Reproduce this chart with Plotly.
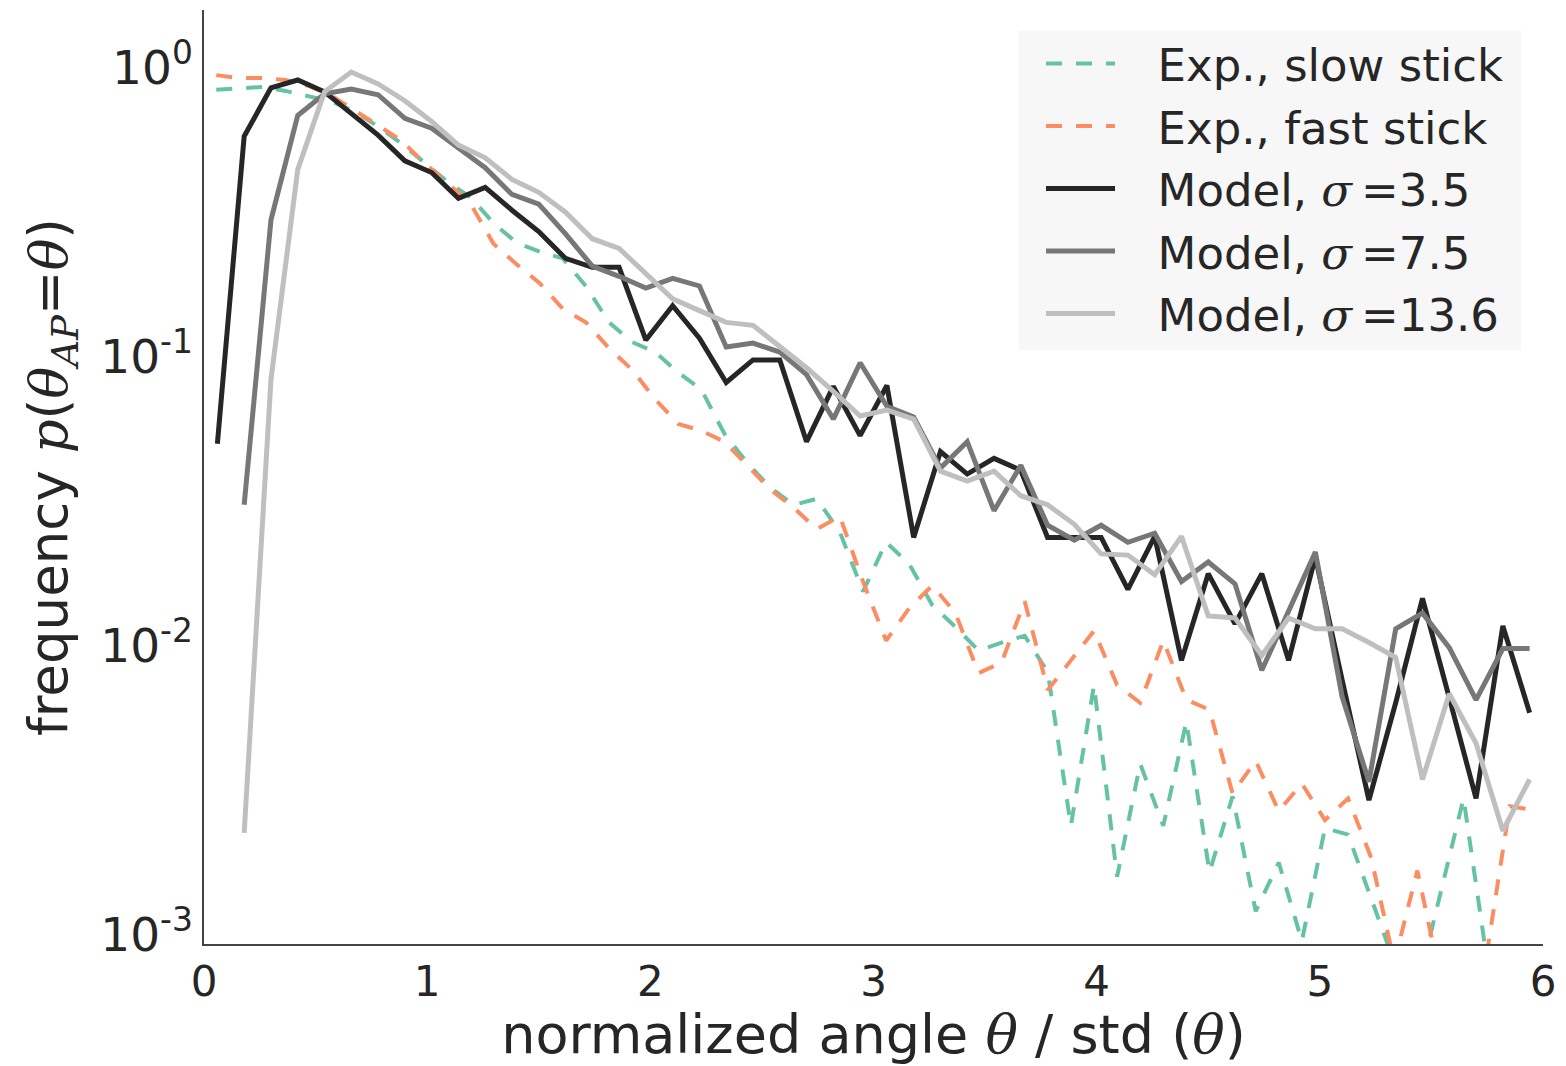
import numpy as np
import plotly.graph_objects as go

# ---------------- data ----------------
# model histograms: 50 bins on [0, 6]
model_x = np.round(0.06 + 0.12 * np.arange(50), 3)
# experimental histograms: 58 bins on [0, 6]
exp_x = np.round(0.055 + 0.1035 * np.arange(58), 4)

exp_slow = [0.835, 0.848, 0.855, 0.828, 0.796, 0.760, 0.702, 0.624, 0.546, 0.467,
            0.402, 0.355, 0.289, 0.247, 0.230, 0.218, 0.175, 0.131, 0.1119, 0.1034,
            0.0877, 0.0767, 0.0539, 0.0426, 0.0350, 0.0306, 0.0321, 0.0246, 0.01535, 0.0227,
            0.0191, 0.01375, 0.01157, 0.00958, 0.01021, 0.01078, 0.00806, 0.00237, 0.00728, 0.00158,
            0.00389, 0.00237, 0.00544, 0.00164, 0.00300, 0.00120, 0.00177, 0.000946, 0.00233, 0.00221,
            0.00132, 0.0008, 0.00065, 0.00140, 0.00295, 0.00083, 0.0003, 0.0003]

exp_fast = [0.939, 0.917, 0.917, 0.903, 0.861, 0.796, 0.708, 0.629, 0.559, 0.467,
            0.396, 0.338, 0.245, 0.208, 0.179, 0.146, 0.131, 0.1067, 0.0898, 0.0710,
            0.0583, 0.0552, 0.0506, 0.0419, 0.0345, 0.0299, 0.0252, 0.0279, 0.0166, 0.01037,
            0.01343, 0.01609, 0.01291, 0.00800, 0.00872, 0.01419, 0.00700, 0.00886, 0.01121, 0.00728,
            0.00632, 0.01037, 0.00647, 0.00598, 0.00307, 0.00398, 0.00267, 0.00332, 0.00248, 0.00295,
            0.00184, 0.0008, 0.00166, 0.0007, 0.0003, 0.00085, 0.00277, 0.00269]

model_s35 = [0.0498, 0.577, 0.848, 0.903, 0.822, 0.691, 0.582, 0.474, 0.432, 0.352,
             0.384, 0.320, 0.270, 0.218, 0.203, 0.203, 0.1137, 0.1496, 0.1155, 0.0811,
             0.0971, 0.0971, 0.0506, 0.0786, 0.0531, 0.0792, 0.0236, 0.0468, 0.0391, 0.0443,
             0.0403, 0.0236, 0.0236, 0.0236, 0.01559, 0.0238, 0.00886, 0.01768, 0.01185, 0.01768,
             0.00886, 0.0202, 0.00757, 0.00291, 0.00632, 0.01453, 0.00657, 0.00295, 0.01166, 0.00584]

model_s75 = [None, 0.0306, 0.296, 0.681, 0.809, 0.841, 0.803, 0.665, 0.615, 0.525,
             0.449, 0.363, 0.336, 0.265, 0.205, 0.189, 0.172, 0.186, 0.175, 0.1076,
             0.1110, 0.1034, 0.0863, 0.0606, 0.0949, 0.0671, 0.0616, 0.0410, 0.0506, 0.0292,
             0.0419, 0.0260, 0.0231, 0.0260, 0.0227, 0.0244, 0.0166, 0.0194, 0.0163, 0.00819,
             0.01312, 0.0210, 0.00663, 0.00337, 0.01139, 0.01291, 0.00981, 0.00647, 0.00974, 0.00974]

model_s136 = [None, 0.00224, 0.0830, 0.442, 0.822, 0.962, 0.875, 0.766, 0.649, 0.538,
              0.486, 0.409, 0.369, 0.315, 0.255, 0.236, 0.194, 0.158, 0.1438, 0.1309,
              0.1279, 0.1076, 0.0912, 0.0755, 0.0621, 0.0651, 0.0606, 0.0400, 0.0370, 0.0400,
              0.0329, 0.0306, 0.0262, 0.0207, 0.0205, 0.01754, 0.0238, 0.01262, 0.01242, 0.00922,
              0.01242, 0.01139, 0.01139, 0.01021, 0.00907, 0.00343, 0.00679, 0.00458, 0.00228, 0.00343]

MATH = "<span style='font-family:\"DejaVu Serif\"'><i>{}</i></span>"
PAD = "\u00a0\u00a0\u2009"
series_names = [PAD + "Exp., slow stick", PAD + "Exp., fast stick",
                PAD + "Model, " + MATH.format("σ") + "\u2009=3.5",
                PAD + "Model, " + MATH.format("σ") + "\u2009=7.5",
                PAD + "Model, " + MATH.format("σ") + "\u2009=13.6"]

y_tick_vals = [1, 0.1, 0.01, 0.001]
y_tick_text = ["10<sup>0</sup>", "10<sup>-1</sup>", "10<sup>-2</sup>", "10<sup>-3</sup>"]
x_tick_vals = [0, 1, 2, 3, 4, 5, 6]

x_title = "normalized angle " + MATH.format("θ") + " / std (" + MATH.format("θ") + ")"
y_title = ("frequency " + MATH.format("p") + "(" + MATH.format("θ")
           + "<sub>" + MATH.format("AP") + "</sub>=" + MATH.format("θ") + ")")

# ---------------- figure ----------------
FONT = "DejaVu Sans"
TXT = "#262626"

fig = go.Figure()
specs = [
    (exp_x, exp_slow, "#66c2a5", 4, "16px,14px"),
    (exp_x, exp_fast, "#fc8d62", 4, "16px,14px"),
    (model_x, model_s35, "#262626", 5, "solid"),
    (model_x, model_s75, "#777777", 5, "solid"),
    (model_x, model_s136, "#bfbfbf", 5, "solid"),
]
for i, (xs, ys, col, w, dash) in enumerate(specs):
    fig.add_trace(go.Scatter(
        x=xs, y=ys, mode="lines", name=series_names[i],
        legendgroup=f"g{i}",
        line=dict(color=col, width=w, dash=dash),
        connectgaps=False,
    ))

# legend background box
fig.add_shape(type="rect", xref="paper", yref="paper",
              x0=0.6087, x1=0.9836, y0=0.6361, y1=0.9778,
              fillcolor="#f7f7f7", line=dict(width=0), layer="above")

fig.update_layout(
    width=1566, height=1066, autosize=False,
    margin=dict(l=204, r=23, t=10, b=108),
    paper_bgcolor="white", plot_bgcolor="white",
    font=dict(family=FONT, color=TXT, size=44),
    showlegend=True,
    legend=dict(
        x=0.6251, y=0.981, xanchor="left", yanchor="top",
        bgcolor="rgba(0,0,0,0)", borderwidth=0,
        font=dict(family=FONT, size=45, color=TXT),
        itemwidth=69, tracegroupgap=1, traceorder="grouped",
    ),
)
fig.update_xaxes(
    range=[0, 6], tickvals=x_tick_vals, showgrid=False, zeroline=False,
    showline=True, linecolor="#444444", linewidth=1.5, ticks="",
    tickfont=dict(size=42, family=FONT, color=TXT),
    title=dict(text=x_title, font=dict(size=54, family=FONT, color=TXT), standoff=12),
)
fig.update_yaxes(
    type="log", range=[-3.034, 0.198],
    tickvals=y_tick_vals, ticktext=y_tick_text,
    showgrid=False, zeroline=False,
    showline=True, linecolor="#444444", linewidth=1.5, ticks="",
    tickfont=dict(size=47, family=FONT, color=TXT),
    title=dict(text=y_title, font=dict(size=53, family=FONT, color=TXT), standoff=16),
)

fig.write_html("out.html")
